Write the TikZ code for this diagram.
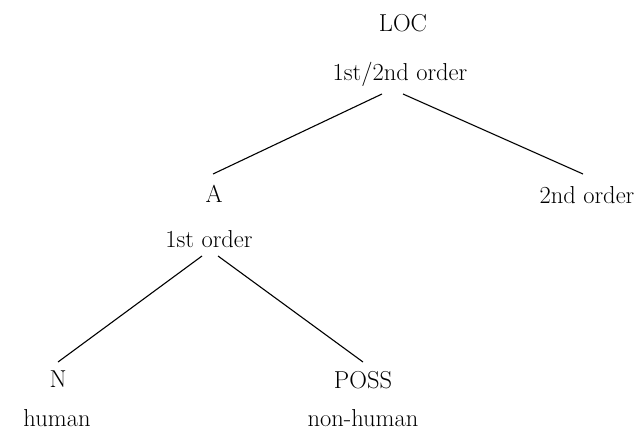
\documentclass[tikz,border=0pt]{standalone}
\begin{document}
\begin{tikzpicture}[x=1pt,y=-1pt,
  lbl/.style={anchor=base,inner sep=0pt,font=\fontsize{24.5}{29}\selectfont},
  branch/.style={line width=1.1pt}]
\useasboundingbox (0,0) rectangle (644,433);
% labels, placed on their baselines
\node[lbl] (loc)   at (403,32)  {LOC};
\node[lbl] (ord12) at (400,81)  {1st/2nd order};
\node[lbl] (a)     at (214,202) {A};
\node[lbl] (ord1)  at (209,247) {1st order};
\node[lbl] (ord2)  at (587,203) {2nd order};
\node[lbl] (n)     at (58,387)  {N};
\node[lbl] (hum)   at (57,426)  {human};
\node[lbl] (poss)  at (363,388) {POSS};
\node[lbl] (nhum)  at (363,426) {non-human};
% branch end points
\coordinate (r-l) at (382,94);
\coordinate (r-r) at (403,94);
\coordinate (a-top) at (213,174);
\coordinate (o2-top) at (583,174);
\coordinate (a-l) at (202,256);
\coordinate (a-r) at (218,256);
\coordinate (n-top) at (58,362);
\coordinate (p-top) at (363,362);
% branches
\draw[branch] (r-l) -- (a-top);
\draw[branch] (r-r) -- (o2-top);
\draw[branch] (a-l) -- (n-top);
\draw[branch] (a-r) -- (p-top);
\end{tikzpicture}
\end{document}
